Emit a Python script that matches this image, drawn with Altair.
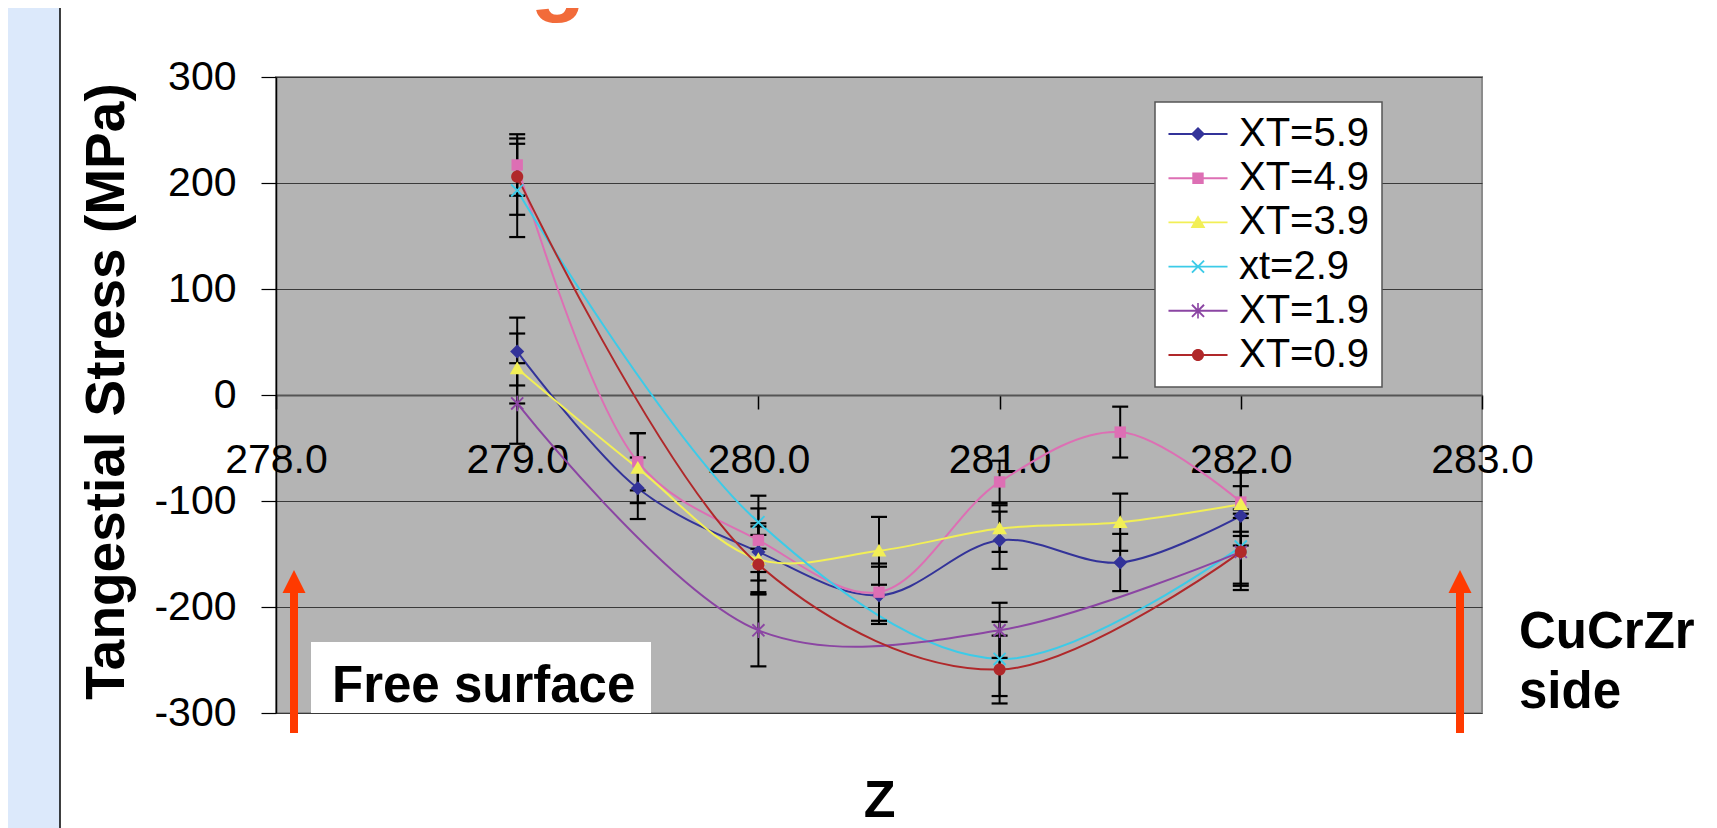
import altair as alt
import pandas as pd

FONT = "Liberation Sans"

# ---------------- data ----------------
series_names = ["XT=5.9", "XT=4.9", "XT=3.9", "xt=2.9", "XT=1.9", "XT=0.9"]
series_colors = ["#333399", "#dd6fb4", "#f2ef56", "#3ccbe8", "#8b45a3", "#b0282a"]

z_full = [279.0, 279.5, 280.0, 280.5, 281.0, 281.5, 282.0]
z_part = [279.0, 280.0, 281.0, 282.0]

xt59 = [41, -88, -148, -189, -137, -158, -114]
xt59_err = [32, 29, 27, 27, 27, 27, 28]
xt49 = [217, -63, -137, -186, -82, -35, -101]
xt49_err = [29, 27, 30, 27, 20, 24, 28]
xt39 = [25, -69, -155, -147, -126, -120, -103]
xt39_err = [33, 33, 31, 32, 22, 27, 30]
xt29 = [193, -120, -249, -143]
xt29_err = [44, 25, 35, 35]
xt19 = [-8, -222, -222, -148]
xt19_err = [38, 34, 26, 32]
xt09 = [206, -160, -259, -148]
xt09_err = [36, 28, 32, 36]

x_ticks = [278.0, 279.0, 280.0, 281.0, 282.0, 283.0]
y_ticks = [-300, -200, -100, 0, 100, 200, 300]

# ---------------- marker shapes ----------------
DIAMOND = "M0,-1.05L1.05,0L0,1.05L-1.05,0Z"
SQUARE = "M-0.85,-0.85L0.85,-0.85L0.85,0.85L-0.85,0.85Z"
TRIANGLE = "M0,-1.05L1.1,0.85L-1.1,0.85Z"
XMARK = "M-0.8,-1L1,0.8L0.8,1L-1,-0.8ZM0.8,-1L1,-0.8L-0.8,1L-1,0.8Z"
STAR = XMARK + "M-0.12,-1.15L0.12,-1.15L0.12,1.15L-0.12,1.15Z"
CIRCLE = "M0.9,0A0.9,0.9,0,1,1,-0.9,0A0.9,0.9,0,1,1,0.9,0Z"
marker_paths = [DIAMOND, SQUARE, TRIANGLE, XMARK, STAR, CIRCLE]
LEG_LINE = "M-4.4,-0.14L4.4,-0.14L4.4,0.14L-4.4,0.14Z"
legend_paths = [LEG_LINE + p for p in marker_paths]

rows = []
for name, zs, vals, errs in [
    ("XT=5.9", z_full, xt59, xt59_err),
    ("XT=4.9", z_full, xt49, xt49_err),
    ("XT=3.9", z_full, xt39, xt39_err),
    ("xt=2.9", z_part, xt29, xt29_err),
    ("XT=1.9", z_part, xt19, xt19_err),
    ("XT=0.9", z_part, xt09, xt09_err),
]:
    for z, v, e in zip(zs, vals, errs):
        rows.append({"series": name, "z": z, "stress": v, "lo": v - e, "hi": v + e})
df = pd.DataFrame(rows)

W, H = 1206, 636
PAD_L, PAD_T, PAD_R, PAD_B = 268, 69, 227, 115

x_scale = alt.Scale(domain=[278, 283], nice=False, zero=False)
y_scale = alt.Scale(domain=[-300, 300], nice=False, zero=False)

x_axis = alt.Axis(
    values=x_ticks, format=".1f", offset=-318, grid=False,
    domainColor="#555555", domainWidth=2, tickColor="black", tickWidth=1.5, tickSize=14,
    labelFontSize=41, labelColor="black", labelFont=FONT, labelPadding=63,
    labelBaseline="alphabetic", labelFlush=False, labelOverlap=False,
    title="Z", titleFont=FONT, titleFontSize=52, titleFontWeight="bold", titleColor="black",
    titleX=W / 2, titleY=421, titleAlign="center", titleBaseline="alphabetic", titleAngle=0,
)
y_axis = alt.Axis(
    values=y_ticks, grid=True, gridColor="#3a3a3a", gridWidth=1.2,
    domainColor="black", domainWidth=1.5, tickColor="black", tickWidth=1.2, tickSize=15,
    labelFontSize=41, labelColor="black", labelFont=FONT, labelPadding=25,
    labelFlush=False, labelOverlap=False,
    labelExpr="datum.value < 0 ? '-' + (-datum.value) : '' + datum.value",
    title="Tangestial Stress (MPa)", titleFont=FONT, titleFontSize=55, titleFontWeight="bold",
    titleColor="black", titleX=-170, titleY=H / 2 - 4, titleAngle=270, titleAlign="center",
    titleBaseline="middle",
)

def X(field="z"):
    return alt.X(f"{field}:Q", scale=x_scale, axis=x_axis)

def Y(field):
    return alt.Y(f"{field}:Q", scale=y_scale, axis=y_axis)

color_enc = alt.Color("series:N", scale=alt.Scale(domain=series_names, range=series_colors), legend=None)

base = alt.Chart(df)

lines = base.mark_line(interpolate="catmull-rom", strokeWidth=2).encode(
    x=X(), y=Y("stress"), color=color_enc, detail="series:N"
)
err_rules = base.mark_rule(color="black", strokeWidth=2).encode(
    x=X(), y=Y("lo"), y2=alt.Y2("hi:Q")
)
cap_lo = base.mark_tick(orient="horizontal", size=16, thickness=2.2, color="black", opacity=1).encode(
    x=X(), y=Y("lo")
)
cap_hi = base.mark_tick(orient="horizontal", size=16, thickness=2.2, color="black", opacity=1).encode(
    x=X(), y=Y("hi")
)
markers = base.mark_point(filled=True, size=180, opacity=1).encode(
    x=X(), y=Y("stress"), color=color_enc,
    shape=alt.Shape("series:N", scale=alt.Scale(domain=series_names, range=marker_paths), legend=None),
)

leg = alt.Legend(
    title=None, orient="none", legendX=879, legendY=25, direction="vertical",
    padding=12, fillColor="white", strokeColor="#555555", cornerRadius=0,
    symbolSize=180, symbolStrokeWidth=0, symbolOffset=11, symbolOpacity=1,
    labelFontSize=40, labelFont=FONT, labelColor="black", labelOffset=21,
    rowPadding=4.2, labelLimit=400,
)
legend_layer = base.mark_point(filled=True, size=180, opacity=0).encode(
    x=X(), y=Y("stress"),
    fill=alt.Fill("series:N", scale=alt.Scale(domain=series_names, range=series_colors), legend=leg),
    shape=alt.Shape("series:N", scale=alt.Scale(domain=series_names, range=legend_paths), legend=leg),
)

one = alt.Data(values=[{"k": 1}])
ann = alt.Chart(one)

strip = ann.mark_rect(color="#dce9fb").encode(
    x=alt.value(-PAD_L), x2=alt.value(-216), y=alt.value(-PAD_T), y2=alt.value(H + PAD_B)
)
strip_line = ann.mark_rule(color="black", strokeWidth=1.5).encode(
    x=alt.value(-216), y=alt.value(-PAD_T), y2=alt.value(H + PAD_B)
)

ARROW = "#ff3a00"
HEAD = "M0,-1L1,1L-1,1Z"
arrows = []
for ax in (18, 1184):
    arrows.append(ann.mark_rule(color=ARROW, strokeWidth=8).encode(
        x=alt.value(ax), y=alt.value(514), y2=alt.value(656)))
    arrows.append(ann.mark_point(shape=HEAD, filled=True, color=ARROW, opacity=1, size=529).encode(
        x=alt.value(ax), y=alt.value(504.5)))

free_box = ann.mark_rect(color="white").encode(
    x=alt.value(35), x2=alt.value(375), y=alt.value(565), y2=alt.value(636)
)
txt_kw = dict(align="left", baseline="alphabetic", font=FONT, fontSize=51, fontWeight="bold", color="black")
free_txt = ann.mark_text(**txt_kw).encode(x=alt.value(56), y=alt.value(625), text=alt.value("Free surface"))
cu_txt = ann.mark_text(**txt_kw).encode(x=alt.value(1243), y=alt.value(571), text=alt.value("CuCrZr"))
side_txt = ann.mark_text(**txt_kw).encode(x=alt.value(1243), y=alt.value(631), text=alt.value("side"))
# only the descender of the (cut-off) slide title is visible at the top edge
g_txt = ann.mark_text(align="center", baseline="alphabetic", font=FONT, fontSize=90, fontWeight="bold",
                      color="#f26b3a").encode(x=alt.value(282), y=alt.value(-73), text=alt.value("g"))

chart = alt.layer(
    strip, strip_line, lines, err_rules, cap_lo, cap_hi, markers, legend_layer,
    *arrows, free_box, free_txt, cu_txt, side_txt, g_txt,
).resolve_scale(
    shape="independent", fill="independent"
).resolve_legend(
    shape="independent", fill="independent"
).properties(
    width=W, height=H,
    autosize=alt.AutoSizeParams(type="none"),
    padding={"left": PAD_L, "top": PAD_T, "right": PAD_R, "bottom": PAD_B},
    background="white",
).configure_view(
    fill="#b4b4b4", stroke="#8c8c8c", strokeWidth=2
).configure_legend(
    strokeWidth=1.5
)

chart.save("out.html", embed_options={"renderer": "svg", "actions": False})
